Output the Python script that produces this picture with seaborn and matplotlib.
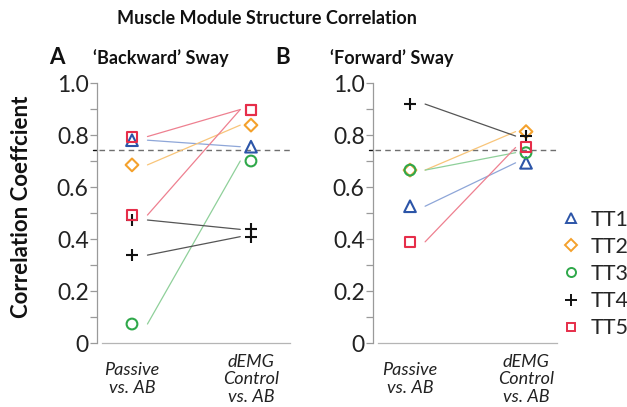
import numpy as np
import pandas as pd
import matplotlib
matplotlib.use("Agg")
import matplotlib.pyplot as plt
import seaborn as sns
from matplotlib.lines import Line2D

# ---------------- data ----------------
conditions = ["Passive\nvs. AB", "dEMG\nControl\nvs. AB"]
subjects = ["TT1", "TT2", "TT3", "TT4", "TT5"]

# 'Backward' sway: one entry per connected pair
back_subject = ["TT1", "TT2", "TT3", "TT4", "TT4", "TT5", "TT5"]
back_passive = [0.780, 0.685, 0.073, 0.473, 0.338, 0.794, 0.492]
back_demg = [0.755, 0.838, 0.700, 0.437, 0.409, 0.898, 0.898]

# 'Forward' sway
fwd_subject = ["TT1", "TT2", "TT3", "TT4", "TT5"]
fwd_passive = [0.526, 0.665, 0.665, 0.919, 0.389]
fwd_demg = [0.693, 0.813, 0.732, 0.796, 0.752]

threshold = 0.742
y_ticklabels = ["0", "0.2", "0.4", "0.6", "0.8", "1.0"]

# ---------------- style ----------------
sns.set_style("white")
plt.rcParams["font.family"] = ["Lato", "DejaVu Sans"]

colors = {"TT1": "#2c55a8", "TT2": "#f4a12c", "TT3": "#2fa84a",
          "TT4": "#111111", "TT5": "#e62e4a"}
line_colors = {"TT1": "#8ea6d8", "TT2": "#f8c57a", "TT3": "#8fd09a",
               "TT4": "#555555", "TT5": "#ee8090"}
markers = {"TT1": "^", "TT2": "D", "TT3": "o", "TT4": "+", "TT5": "s"}
sizes = {"TT1": 70, "TT2": 42, "TT3": 60, "TT4": 85, "TT5": 52}
leg_sizes = {"TT1": 7.5, "TT2": 6.0, "TT3": 6.5, "TT4": 8.5, "TT5": 6.0}

fig = plt.figure(figsize=(6.27, 4.07), dpi=100)
W, H = 627, 407


def px_axes(left, right, top, bottom):
    return fig.add_axes([left / W, 1 - bottom / H, (right - left) / W, (bottom - top) / H])


axA = px_axes(97, 290, 83, 343)
axB = px_axes(373, 557, 83, 343)


def draw_panel(ax, subj, passive, demg, xlim):
    n = len(subj)
    gap_l, gap_r = 0.13, 0.09
    seg = pd.DataFrame({
        "x": [gap_l] * n + [1 - gap_r] * n,
        "r": list(passive) + list(demg),
        "subject": list(subj) * 2,
        "pair": list(range(n)) * 2,
    })
    sns.lineplot(data=seg, x="x", y="r", hue="subject", units="pair",
                 estimator=None, palette=line_colors, linewidth=0.9,
                 legend=False, sort=False, ax=ax)
    pts = pd.DataFrame({
        "x": [0] * n + [1] * n,
        "r": list(passive) + list(demg),
        "subject": list(subj) * 2,
    })
    for s in subjects:
        d = pts[pts["subject"] == s]
        if markers[s] == "+":
            sns.scatterplot(data=d, x="x", y="r", marker="+", s=sizes[s],
                            color=colors[s], linewidth=1.5, ax=ax,
                            legend=False, zorder=3)
        else:
            sns.scatterplot(data=d, x="x", y="r", marker=markers[s], s=sizes[s],
                            color=colors[s], facecolor="none",
                            edgecolor=colors[s], linewidth=1.5, ax=ax,
                            legend=False, zorder=3)
    ax.set_xlim(*xlim)
    ax.set_ylim(0, 1.0)
    ax.plot([xlim[0] + 0.02, xlim[1]], [threshold, threshold], ls=(0, (4, 3)),
            color="#6f6f6f", lw=1.0, zorder=1)
    ax.set_xlabel("")
    ax.set_ylabel("")
    ax.set_yticks(np.arange(0, 1.01, 0.1))
    ax.set_yticklabels([y_ticklabels[i // 2] if i % 2 == 0 else "" for i in range(11)])
    ax.tick_params(axis="y", length=5, width=0.9, color="#9a9a9a", pad=1,
                   labelsize=16.5, labelcolor="#222222", left=True)
    ax.set_xticks([0, 1])
    ax.set_xticklabels(conditions)
    ax.tick_params(axis="x", length=0, pad=26, labelsize=13, labelcolor="#222222")
    for lab in ax.get_xticklabels():
        lab.set_fontstyle("italic")
        lab.set_va("center")
        lab.set_linespacing(1.12)
    for sp in ["top", "right"]:
        ax.spines[sp].set_visible(False)
    ax.spines["left"].set_color("#9a9a9a")
    ax.spines["bottom"].set_color("#b5b5b5")
    ax.spines["left"].set_linewidth(0.9)
    ax.spines["bottom"].set_linewidth(0.9)
    ax.spines["bottom"].set_bounds(xlim[0] + 0.04, xlim[1])
    # threshold tick mark on the axis
    ax.plot([xlim[0] - 0.035, xlim[0]], [threshold, threshold], color="#111111",
            lw=1.0, clip_on=False)


draw_panel(axA, back_subject, back_passive, back_demg, (-0.294, 1.328))
draw_panel(axB, fwd_subject, fwd_passive, fwd_demg, (-0.319, 1.267))

# titles
fig.text(267 / W, 1 - 19 / H, "Muscle Module Structure Correlation", ha="center",
         va="center", fontsize=13, fontweight="bold", color="#111111")
fig.text(57 / W, 1 - 58 / H, "A", ha="center", va="center", fontsize=16,
         fontweight="bold", color="#111111")
fig.text(93 / W, 1 - 58 / H, "\u2018Backward\u2019 Sway", ha="left", va="center",
         fontsize=13, fontweight="bold", color="#111111")
fig.text(283 / W, 1 - 58 / H, "B", ha="center", va="center", fontsize=16,
         fontweight="bold", color="#111111")
fig.text(330 / W, 1 - 58 / H, "\u2018Forward\u2019 Sway", ha="left", va="center",
         fontsize=13, fontweight="bold", color="#111111")
fig.text(22 / W, 1 - 207 / H, "Correlation Coeffcient", rotation=90, ha="center",
         va="center", fontsize=16, fontweight="bold", color="#111111")

# legend
handles = [Line2D([], [], ls="none", marker=markers[s], markersize=leg_sizes[s],
                  markerfacecolor="none", markeredgecolor=colors[s],
                  markeredgewidth=1.4, color=colors[s]) for s in subjects]
fig.legend(handles, subjects, loc="center left",
           bbox_to_anchor=(560 / W, 1 - 274 / H), frameon=False, fontsize=15.5,
           handlelength=1.0, handletextpad=0.4, labelspacing=0.33,
           borderpad=0, borderaxespad=0)

fig.savefig("out.png", dpi=100)
